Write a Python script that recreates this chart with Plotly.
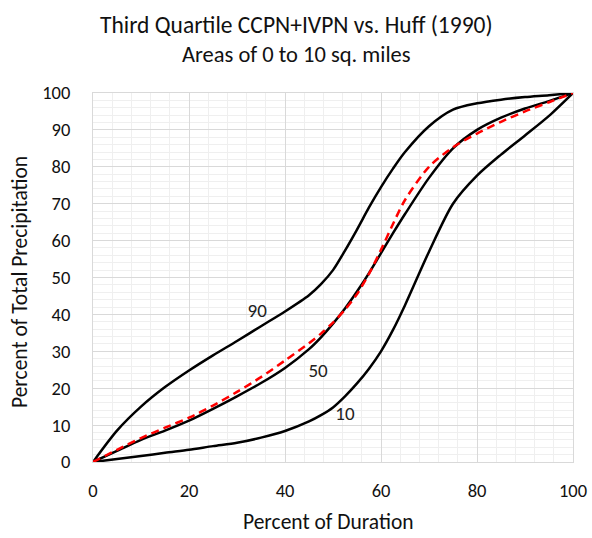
import plotly.graph_objects as go

# Percent of duration (x) and cumulative percent of precipitation (y)
x_pts = [0, 5, 10, 15, 20, 25, 30, 35, 40, 45, 47.5, 50, 52.5, 55, 57.5, 60, 62.5, 65, 70, 75, 80, 85, 90, 95, 100]

p90 = [0, 8.5, 15, 20.3, 24.8, 28.9, 32.8, 36.8, 40.8, 45.2, 48.2, 52, 57.3, 63, 69, 74.5, 79.5, 84, 91, 95.5, 97.2, 98.2, 98.9, 99.4, 100]
p50 = [0, 3, 6, 8.5, 11.2, 14.4, 17.8, 21.4, 25.5, 30.6, 33.8, 37.5, 41.6, 46.2, 51.2, 56.6, 62, 67.2, 77, 85, 90, 93.3, 95.8, 97.8, 100]
p10 = [0, 0.8, 1.6, 2.5, 3.3, 4.3, 5.2, 6.6, 8.4, 11, 12.7, 14.8, 17.8, 21.3, 25.3, 30, 35.8, 42.5, 57, 70, 77.6, 83.3, 88.5, 93.8, 100]
huff = [0, 3.3, 6.5, 9.3, 12, 15.3, 19, 23, 27.5, 32.2, 34.8, 37.8, 41.3, 45.5, 51, 57.5, 64.5, 71, 80, 85.3, 89, 92.2, 95, 97.5, 100]

labels = ["90", "50", "10"]
label_x = [34.2, 46.9, 52.5]
label_y = [40.6, 24.3, 12.7]

title_lines = ["Third Quartile CCPN+IVPN vs. Huff (1990)", "Areas of 0 to 10 sq. miles"]
x_title = "Percent of Duration"
y_title = "Percent of Total Precipitation"

FONT = "Carlito, Calibri, Lato, sans-serif"

fig = go.Figure()
for ys in (p90, p50, p10):
    fig.add_trace(go.Scatter(x=x_pts, y=ys, mode="lines",
                             line=dict(color="black", width=2.5, shape="spline", smoothing=0.8),
                             showlegend=False, hoverinfo="skip"))
fig.add_trace(go.Scatter(x=x_pts, y=huff, mode="lines",
                         line=dict(color="#ff0000", width=2.5, dash="8px,5px", shape="spline", smoothing=0.8),
                         showlegend=False, hoverinfo="skip"))
fig.add_trace(go.Scatter(x=label_x, y=label_y, mode="text", text=labels,
                         textfont=dict(family=FONT, size=19, color="#222"),
                         showlegend=False, hoverinfo="skip"))

axis_common = dict(
    showline=True, linecolor="#d9d9d9", linewidth=1, mirror=True,
    gridcolor="#d9d9d9", gridwidth=1, zeroline=False, ticks="",
    tickfont=dict(family=FONT, size=18.5, color="#111"),
    automargin=False,
)

fig.update_layout(
    width=592, height=538,
    margin=dict(l=93, r=19, t=93, b=76, autoexpand=False),
    paper_bgcolor="white", plot_bgcolor="white",
    xaxis=dict(range=[0, 100], dtick=20, tick0=0, ticklabelstandoff=12,
               minor=dict(dtick=4, showgrid=True, gridcolor="#efefef", gridwidth=1),
               **axis_common),
    yaxis=dict(range=[0, 100], dtick=10, tick0=0, ticklabelstandoff=18,
               minor=dict(dtick=2, showgrid=True, gridcolor="#efefef", gridwidth=1),
               **axis_common),
    annotations=[
        dict(text=title_lines[0], xref="paper", yref="paper", x=(296 - 93) / 480, y=(461.7 - 25) / 368.4,
             xanchor="center", yanchor="middle", showarrow=False,
             font=dict(family=FONT, size=23.5, color="#111")),
        dict(text=title_lines[1], xref="paper", yref="paper", x=(296 - 93) / 480, y=(461.7 - 55) / 368.4,
             xanchor="center", yanchor="middle", showarrow=False,
             font=dict(family=FONT, size=22.5, color="#111")),
        dict(text=x_title, xref="paper", yref="paper", x=(328 - 93) / 480, y=(461.7 - 522) / 368.4,
             xanchor="center", yanchor="middle", showarrow=False,
             font=dict(family=FONT, size=21.5, color="#111")),
        dict(text=y_title, xref="paper", yref="paper", x=(20 - 93) / 480, y=(461.7 - 282) / 368.4,
             xanchor="center", yanchor="middle", showarrow=False, textangle=-90,
             font=dict(family=FONT, size=21.5, color="#111")),
    ],
)

fig.write_html("out.html", config={"displayModeBar": False},
               post_script="document.body.style.margin='0';")
